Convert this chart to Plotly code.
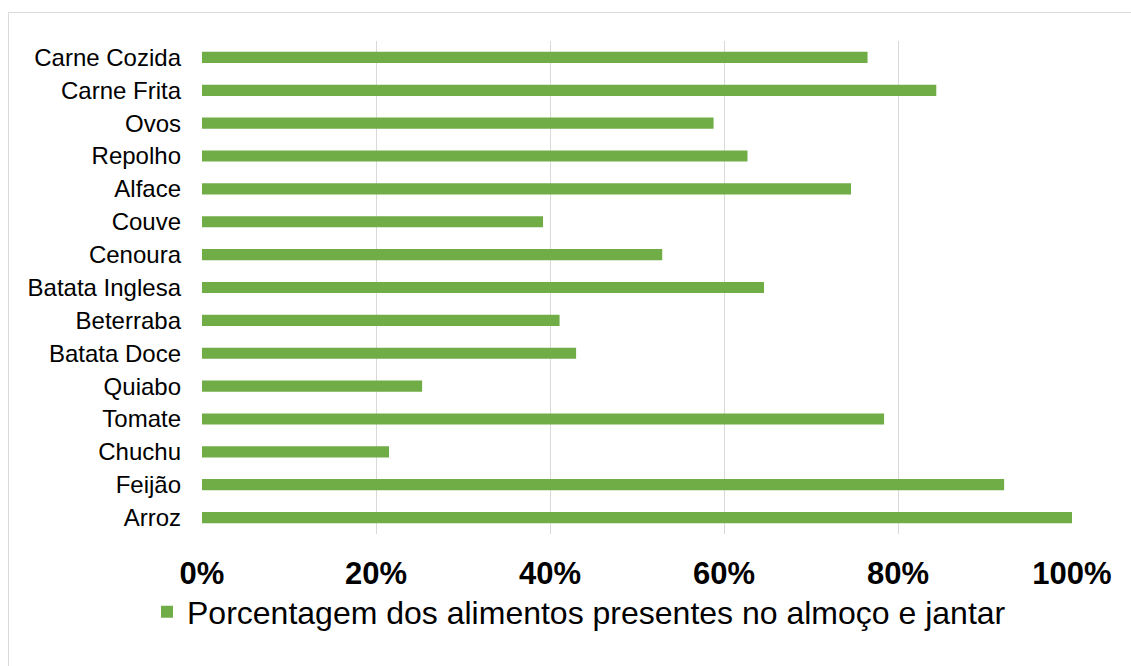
import plotly.graph_objects as go

categories = ["Arroz", "Feijão", "Chuchu", "Tomate", "Quiabo", "Batata Doce", "Beterraba",
              "Batata Inglesa", "Cenoura", "Couve", "Alface", "Repolho", "Ovos", "Carne Frita",
              "Carne Cozida"]
values = [1.000, 0.922, 0.215, 0.784, 0.253, 0.430, 0.411, 0.646, 0.529, 0.392, 0.746,
          0.627, 0.588, 0.844, 0.765]
series_name = "Porcentagem dos alimentos presentes no almoço e jantar"
tick_vals = [0, 0.2, 0.4, 0.6, 0.8, 1.0]
tick_text = ["0%", "20%", "40%", "60%", "80%", "100%"]

W, H = 1131, 666
L, R, T, B = 202, 59, 41, 132
pw, ph = W - L - R, H - T - B

def px_to_paper_x(x):
    return (x - L) / pw

def px_to_paper_y(y):
    return (H - B - y) / ph

fig = go.Figure()
fig.add_trace(go.Bar(
    y=categories, x=values, orientation="h", name=series_name,
    marker=dict(color="#70AD47", line=dict(width=0)),
    showlegend=True,
))

fig.update_layout(
    width=W, height=H,
    margin=dict(l=L, r=R, t=T, b=B),
    paper_bgcolor="white", plot_bgcolor="white",
    bargap=0.66,
    font=dict(family="Liberation Sans, Arial, sans-serif", color="#000000"),
    xaxis=dict(
        range=[0, 1.0], tickvals=tick_vals, ticktext=tick_text,
        showgrid=True, gridcolor="#D9D9D9", gridwidth=1,
        zeroline=False, showline=False, ticks="",
        tickfont=dict(size=31, family="Liberation Sans, Arial, sans-serif", color="#000000", weight="bold"),
        ticklabelstandoff=18,
        fixedrange=True,
    ),
    yaxis=dict(
        showgrid=False, zeroline=False, showline=False, ticks="",
        tickfont=dict(size=24, color="#000000"),
        ticklabelstandoff=20,
        categoryorder="array", categoryarray=categories,
        fixedrange=True,
    ),
    legend=dict(
        orientation="h", x=px_to_paper_x(147), xanchor="left",
        y=px_to_paper_y(612), yanchor="middle",
        font=dict(size=32, color="#000000"),
        itemwidth=30, bgcolor="rgba(0,0,0,0)",
    ),
    shapes=[dict(
        type="rect", xref="paper", yref="paper",
        x0=px_to_paper_x(8.5), x1=px_to_paper_x(1140),
        y0=px_to_paper_y(700), y1=px_to_paper_y(12.5),
        line=dict(color="#D9D9D9", width=1), fillcolor="rgba(0,0,0,0)", layer="below",
    )],
)

fig.write_html("out.html")
